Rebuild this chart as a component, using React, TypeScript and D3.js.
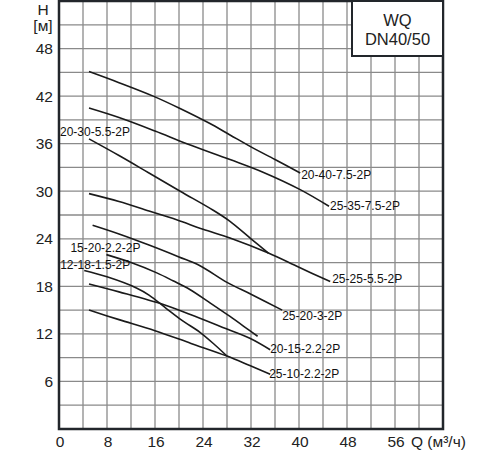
import { useEffect, useRef } from "react";
import * as d3 from "d3";

// Q axis (m3/h) and H axis (m) ticks
const xTicks = [0, 8, 16, 24, 32, 40, 48, 56];
const yTicks = [6, 12, 18, 24, 30, 36, 42, 48];

// pump curves, [Q, H]
const pump20_40 = [[5, 45.1], [10, 43.7], [15.7, 42], [20, 40.5], [25, 38.6], [28.5, 37.1], [32, 35.6], [36, 34], [40.2, 32.3]];
const pump25_35 = [[5, 40.5], [10, 39.3], [16, 37.6], [21.3, 36], [28.5, 34], [34, 32.4], [40.2, 30.2], [45, 28.1]];
const pump20_30 = [[5, 36.6], [10, 34.5], [15, 32.3], [20.2, 30], [25.7, 27.6], [28.5, 26.2], [32, 24], [34.9, 22.2]];
const pump25_25 = [[5, 29.7], [10, 28.7], [15, 27.5], [19.6, 26.4], [24, 25.2], [28.5, 24.1], [34.9, 22.2], [40, 20.4], [45.2, 18.6]];
const pump25_20 = [[5.6, 25.7], [10, 24.6], [15, 23.2], [20, 21.7], [23.5, 20.6], [28, 18.5], [32, 17], [37.2, 15]];
const pump15_20 = [[7.9, 22], [12, 21], [16.3, 19.7], [19, 18.7], [21.8, 17.6], [25, 16], [28.5, 14.2], [31.8, 12.4], [33.1, 11.7]];
const pump12_18 = [[4.2, 20], [8, 19.2], [12.9, 17.8], [15, 16.9], [17.9, 15.2], [20.5, 13.7], [23.5, 12.2], [26, 10.6], [28, 9.2]];
const pump20_15 = [[5, 18.3], [10, 17.3], [17.4, 15.7], [22, 14.4], [27, 12.9], [31.8, 11.45], [35.2, 10]];
const pump25_10 = [[5, 15], [10, 13.8], [16, 12.4], [22, 10.8], [28, 9.2], [31.8, 8], [35.2, 6.9]];

const curves = [
  { name: "20-40-7.5-2P", points: pump20_40, side: "end" },
  { name: "25-35-7.5-2P", points: pump25_35, side: "end" },
  { name: "20-30-5.5-2P", points: pump20_30, side: "start" },
  { name: "25-25-5.5-2P", points: pump25_25, side: "end" },
  { name: "25-20-3-2P", points: pump25_20, side: "end" },
  { name: "15-20-2.2-2P", points: pump15_20, side: "start" },
  { name: "12-18-1.5-2P", points: pump12_18, side: "start" },
  { name: "20-15-2.2-2P", points: pump20_15, side: "end" },
  { name: "25-10-2.2-2P", points: pump25_10, side: "end" },
];

// label nudges in px from the curve end they belong to
const labelNudge: Record<string, [number, number]> = {
  "20-40-7.5-2P": [1, 2],
  "25-35-7.5-2P": [1, -1],
  "20-30-5.5-2P": [-29, -7],
  "25-25-5.5-2P": [2, -3],
  "25-20-3-2P": [0, 6],
  "15-20-2.2-2P": [-36, -7],
  "12-18-1.5-2P": [-24, -5.5],
  "20-15-2.2-2P": [0, -1],
  "25-10-2.2-2P": [-1, -1],
};

const FONT = "'Liberation Sans', Arial, sans-serif";

export default function App() {
  const svgRef = useRef<SVGSVGElement>(null);

  useEffect(() => {
    if (!svgRef.current) return;
    const svg = d3.select(svgRef.current);
    svg.selectAll("*").remove();

    const x = d3.scaleLinear().domain([0, 64]).range([59, 443]);
    const y = d3.scaleLinear().domain([0, 54]).range([429, 1]);

    // grid
    const grid = svg.append("g").attr("stroke", "#8a8a8a").attr("stroke-width", 1.3);
    grid.selectAll("line.v")
      .data(d3.range(4, 64, 4))
      .join("line")
      .attr("x1", d => x(d)).attr("x2", d => x(d))
      .attr("y1", y(54)).attr("y2", y(0));
    grid.selectAll("line.h")
      .data(d3.range(3, 54, 3))
      .join("line")
      .attr("class", "h")
      .attr("x1", x(0)).attr("x2", x(64))
      .attr("y1", d => y(d)).attr("y2", d => y(d));

    // curves
    const line = d3.line<number[]>()
      .x(d => x(d[0]))
      .y(d => y(d[1]))
      .curve(d3.curveCatmullRom.alpha(0.5));

    svg.append("g")
      .selectAll("path")
      .data(curves)
      .join("path")
      .attr("d", d => line(d.points))
      .attr("fill", "none")
      .attr("stroke", "#1a1a1a")
      .attr("stroke-width", 1.6);

    svg.append("g")
      .selectAll("text")
      .data(curves)
      .join("text")
      .attr("x", d => {
        const p = d.side === "end" ? d.points[d.points.length - 1] : d.points[0];
        return x(p[0]) + labelNudge[d.name][0];
      })
      .attr("y", d => {
        const p = d.side === "end" ? d.points[d.points.length - 1] : d.points[0];
        return y(p[1]) + labelNudge[d.name][1];
      })
      .attr("dy", "0.36em")
      .attr("font-family", FONT)
      .attr("font-size", 12)
      .attr("fill", "#111")
      .text(d => d.name);

    // frame
    svg.append("rect")
      .attr("x", x(0)).attr("y", y(54))
      .attr("width", x(64) - x(0)).attr("height", y(0) - y(54))
      .attr("fill", "none")
      .attr("stroke", "#22262b")
      .attr("stroke-width", 2.5);

    // model box
    svg.append("rect")
      .attr("x", 352).attr("y", y(54))
      .attr("width", x(64) - 352).attr("height", 55)
      .attr("fill", "#fff")
      .attr("stroke", "#22262b")
      .attr("stroke-width", 2);
    const boxCx = (352 + x(64)) / 2;
    svg.append("text")
      .attr("x", boxCx).attr("y", 26)
      .attr("text-anchor", "middle")
      .attr("font-family", FONT).attr("font-size", 16.5).attr("fill", "#222")
      .text("WQ");
    svg.append("text")
      .attr("x", boxCx).attr("y", 45)
      .attr("text-anchor", "middle")
      .attr("font-family", FONT).attr("font-size", 16.5).attr("fill", "#222")
      .text("DN40/50");

    // tick labels
    svg.append("g")
      .selectAll("text")
      .data(yTicks)
      .join("text")
      .attr("x", 53)
      .attr("y", d => y(d))
      .attr("dy", "0.36em")
      .attr("text-anchor", "end")
      .attr("font-family", FONT).attr("font-size", 15.5).attr("fill", "#222")
      .text(d => d);

    svg.append("g")
      .selectAll("text")
      .data(xTicks)
      .join("text")
      .attr("x", d => x(d) + 1)
      .attr("y", 447)
      .attr("text-anchor", "middle")
      .attr("font-family", FONT).attr("font-size", 15.5).attr("fill", "#222")
      .text(d => d);

    svg.append("text")
      .attr("x", 411).attr("y", 447)
      .attr("font-family", FONT).attr("font-size", 15.5).attr("fill", "#222")
      .text("Q (м³/ч)");

    svg.append("text")
      .attr("x", 43).attr("y", 15)
      .attr("text-anchor", "middle")
      .attr("font-family", FONT).attr("font-size", 15.5).attr("fill", "#222")
      .text("H");
    svg.append("text")
      .attr("x", 43).attr("y", 31)
      .attr("text-anchor", "middle")
      .attr("font-family", FONT).attr("font-size", 15.5).attr("fill", "#222")
      .text("[м]");
  }, []);

  return (
    <div style={{ position: "absolute", left: 0, top: 0 }}>
      <svg ref={svgRef} width={500} height={450} style={{ display: "block", background: "#fff" }} />
    </div>
  );
}
